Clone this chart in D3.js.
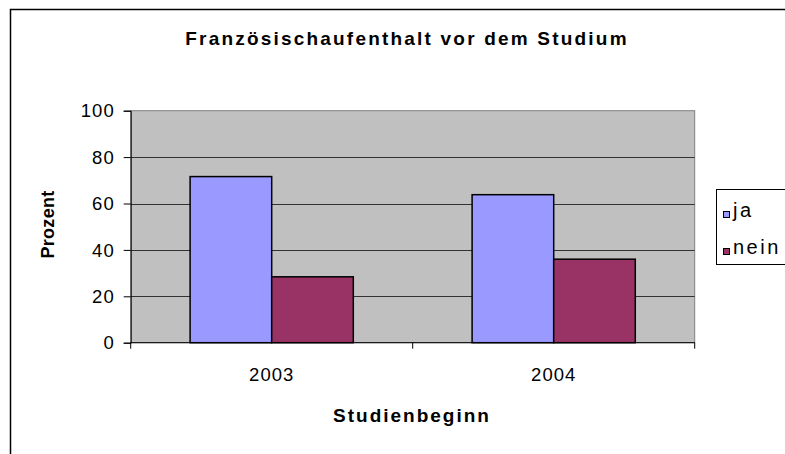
<!DOCTYPE html>
<html>
<head>
<meta charset="utf-8" />
<title>Französischaufenthalt vor dem Studium</title>
<style>
  body { margin: 0; background: #fff; }
  svg { display: block; font-family: "Liberation Sans", Arial, sans-serif; }
  .tick text { font-size: 18.5px; letter-spacing: 1px; fill: #000; }
</style>
</head>
<body>
<div id="chart"></div>
<script src="https://cdn.jsdelivr.net/npm/d3@7"></script>
<script>
  // data
  var years = ["2003", "2004"];
  var seriesNames = ["ja", "nein"];
  var ja = [71.6, 63.8];
  var nein = [28.4, 36.0];
  var seriesColors = ["#9999ff", "#993366"];
  var yTicks = [0, 20, 40, 60, 80, 100];

  var width = 785, height = 454;
  var plot = { left: 130.7, right: 694.7, top: 110.7, bottom: 342.7 };

  var svg = d3.select("#chart").append("svg")
    .attr("width", width)
    .attr("height", height);

  // outer chart border (cut off at right and bottom)
  svg.append("rect")
    .attr("x", 10.5).attr("y", 9.5)
    .attr("width", 900).attr("height", 600)
    .attr("fill", "#fff")
    .attr("stroke", "#000")
    .attr("stroke-width", 1.5);

  var x = d3.scaleBand().domain(years).range([plot.left, plot.right]);
  var xInner = d3.scaleBand().domain(seriesNames)
    .range([0, x.bandwidth()])
    .paddingOuter(0.728);
  var y = d3.scaleLinear().domain([0, 100]).range([plot.bottom, plot.top]);

  // plot area
  svg.append("rect")
    .attr("x", plot.left).attr("y", plot.top)
    .attr("width", plot.right - plot.left)
    .attr("height", plot.bottom - plot.top)
    .attr("fill", "#c0c0c0")
    .attr("stroke", "#808080")
    .attr("stroke-width", 1);

  // gridlines
  svg.append("g")
    .selectAll("line")
    .data(yTicks.filter(function(d) { return d > 0 && d < 100; }))
    .enter().append("line")
    .attr("x1", plot.left).attr("x2", plot.right)
    .attr("y1", function(d) { return Math.round(y(d)) + 0.5; })
    .attr("y2", function(d) { return Math.round(y(d)) + 0.5; })
    .attr("stroke", "#333")
    .attr("stroke-width", 1);

  // bars
  var rows = years.map(function(yr, i) {
    return { year: yr, values: [ja[i], nein[i]] };
  });

  var groups = svg.append("g").selectAll("g")
    .data(rows)
    .enter().append("g")
    .attr("transform", function(d) { return "translate(" + x(d.year) + ",0)"; });

  groups.selectAll("rect")
    .data(function(d) {
      return d.values.map(function(v, j) { return { key: seriesNames[j], value: v, idx: j }; });
    })
    .enter().append("rect")
    .attr("x", function(d) { return xInner(d.key); })
    .attr("width", xInner.bandwidth())
    .attr("y", function(d) { return y(d.value); })
    .attr("height", function(d) { return y(0) - y(d.value); })
    .attr("fill", function(d) { return seriesColors[d.idx]; })
    .attr("stroke", "#000")
    .attr("stroke-width", 1.5);

  // y axis
  var yAxis = svg.append("g")
    .attr("transform", "translate(" + plot.left + ",0)")
    .call(d3.axisLeft(y).tickValues(yTicks).tickSize(7).tickPadding(9));
  yAxis.select(".domain").attr("stroke", "#000");
  yAxis.selectAll(".tick line").attr("stroke", "#000");
  yAxis.selectAll(".tick text").attr("dy", "0.34em");

  // x axis, ticks at category boundaries
  var xAxis = svg.append("g")
    .attr("transform", "translate(0," + plot.bottom + ")");
  xAxis.append("line")
    .attr("x1", plot.left).attr("x2", plot.right)
    .attr("y1", 0).attr("y2", 0)
    .attr("stroke", "#000");
  xAxis.selectAll("line.bnd")
    .data(years.concat(["end"]))
    .enter().append("line")
    .attr("class", "bnd")
    .attr("x1", function(d, i) { return i < years.length ? x(d) : plot.right; })
    .attr("x2", function(d, i) { return i < years.length ? x(d) : plot.right; })
    .attr("y1", 0).attr("y2", 6)
    .attr("stroke", "#000");
  xAxis.selectAll("text")
    .data(years)
    .enter().append("text")
    .attr("class", "tick")
    .attr("x", function(d) { return x(d) + x.bandwidth() / 2; })
    .attr("y", 38)
    .attr("text-anchor", "middle")
    .style("font-size", "18.5px")
    .style("letter-spacing", "1px")
    .text(function(d) { return d; });

  // title
  svg.append("text")
    .attr("x", 407).attr("y", 45)
    .attr("text-anchor", "middle")
    .style("font-size", "19px")
    .style("font-weight", "bold")
    .style("letter-spacing", "2.2px")
    .text("Französischaufenthalt vor dem Studium");

  // axis titles
  svg.append("text")
    .attr("x", 412).attr("y", 422)
    .attr("text-anchor", "middle")
    .style("font-size", "19px")
    .style("font-weight", "bold")
    .style("letter-spacing", "2px")
    .text("Studienbeginn");

  svg.append("text")
    .attr("transform", "translate(53.5,224.5) rotate(-90)")
    .attr("text-anchor", "middle")
    .style("font-size", "18px")
    .style("font-weight", "bold")
    .style("letter-spacing", "0.3px")
    .text("Prozent");

  // legend
  var legend = svg.append("g");
  legend.append("rect")
    .attr("x", 716.5).attr("y", 189.5)
    .attr("width", 120).attr("height", 75)
    .attr("fill", "#fff")
    .attr("stroke", "#000");
  var items = legend.selectAll("g.item")
    .data(seriesNames)
    .enter().append("g")
    .attr("class", "item")
    .attr("transform", function(d, i) { return "translate(0," + (i * 37) + ")"; });
  items.append("rect")
    .attr("x", 723.5).attr("y", 211.5)
    .attr("width", 6).attr("height", 6)
    .attr("fill", function(d, i) { return seriesColors[i]; })
    .attr("stroke", "#000");
  items.append("text")
    .attr("x", 733).attr("y", 217)
    .style("font-size", "20px")
    .style("letter-spacing", "2.5px")
    .text(function(d) { return d; });
</script>
</body>
</html>
